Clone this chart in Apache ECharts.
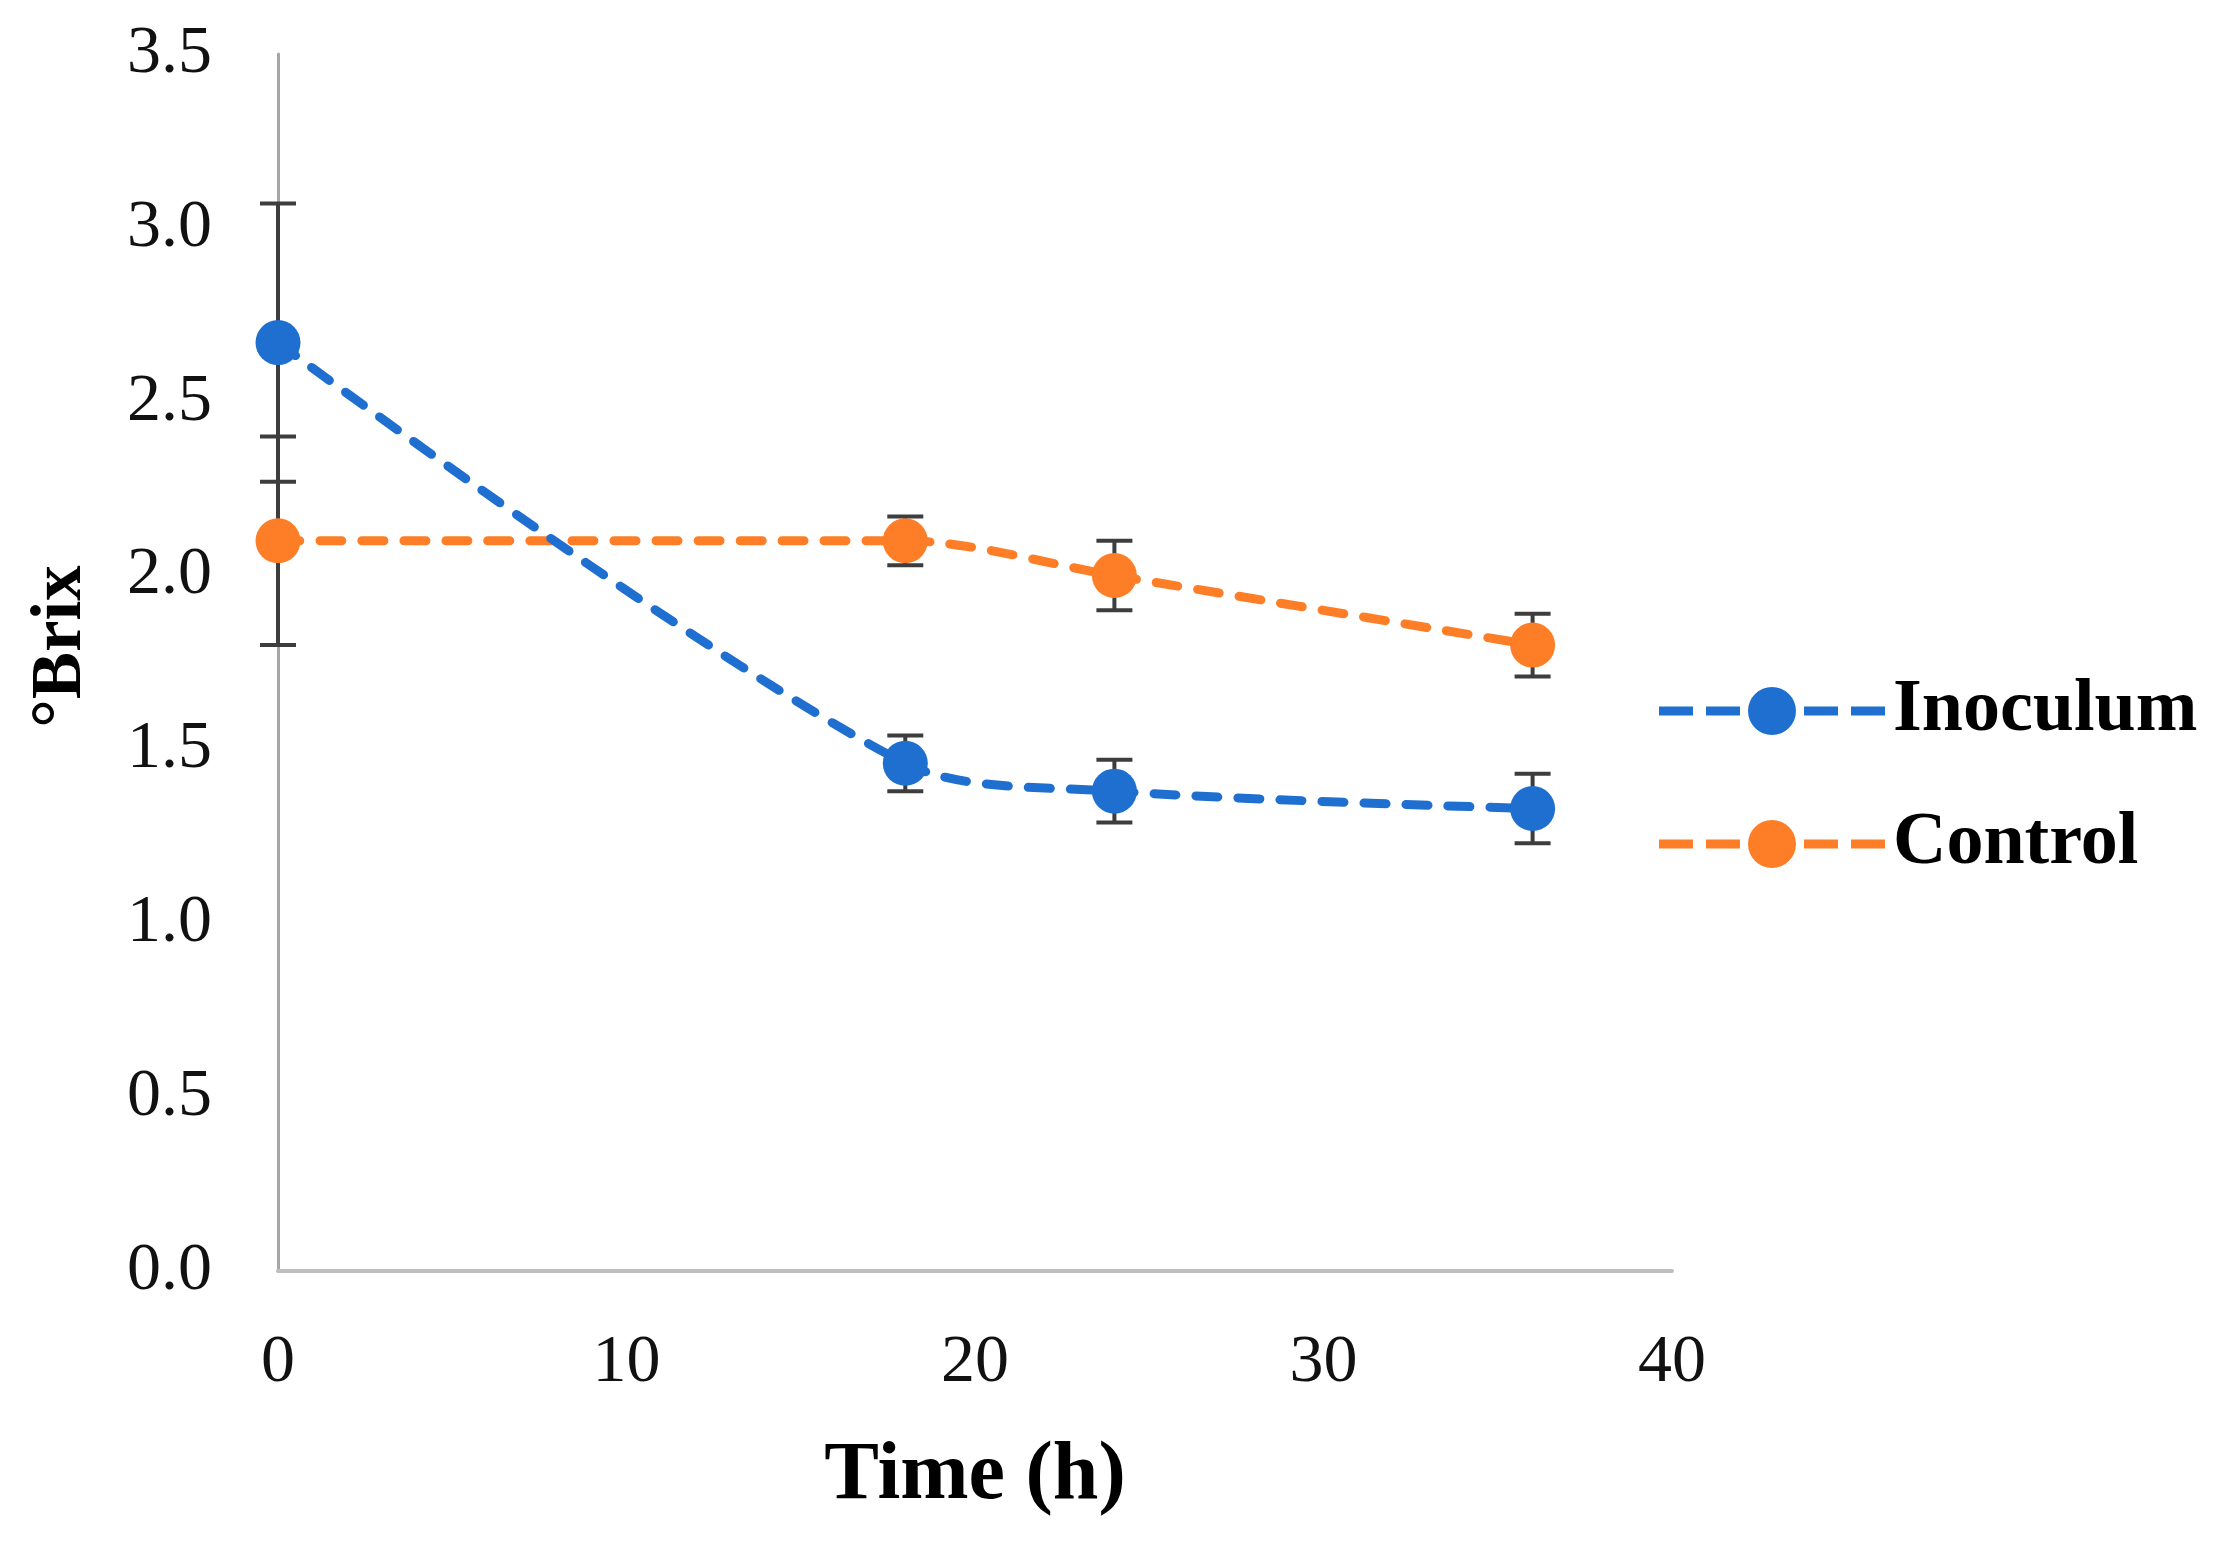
<!DOCTYPE html>
<html><head><meta charset="utf-8">
<script src="https://cdn.jsdelivr.net/npm/echarts@6/dist/echarts.min.js"></script>
<style>html,body{margin:0;padding:0;background:#fff}#c{width:2219px;height:1546px}</style>
</head><body><div id="c"></div>
<script>
// Data
const timeH = [0, 18, 24, 36];
const inoculum = [2.67, 1.46, 1.38, 1.33];
const inoculumErr = [0.40, 0.08, 0.09, 0.10];
const control = [2.10, 2.10, 2.00, 1.80];
const controlErr = [0.30, 0.07, 0.10, 0.09];
const seriesNames = ['Inoculum', 'Control'];
const xTickStep = 10, xMax = 40;
const yTickStep = 0.5, yMax = 3.5;

const BLUE = '#1f6fd0', ORANGE = '#fd7e26', ERR = '#3d3d3d';
const FONT = '"Liberation Serif", "Times New Roman", serif';

function pairs(xs, ys){ return xs.map((x,i)=>[x, ys[i]]); }
function triples(xs, ys, es){ return xs.map((x,i)=>[x, ys[i], es[i]]); }

function errRender(params, api){
  const x = api.value(0), y = api.value(1), e = api.value(2);
  const top = api.coord([x, y + e]), bot = api.coord([x, y - e]);
  const hw = 18;
  const style = {stroke: ERR, lineWidth: 4};
  return {type:'group', children:[
    {type:'line', shape:{x1:top[0], y1:top[1], x2:bot[0], y2:bot[1]}, style},
    {type:'line', shape:{x1:top[0]-hw, y1:top[1], x2:top[0]+hw, y2:top[1]}, style},
    {type:'line', shape:{x1:bot[0]-hw, y1:bot[1], x2:bot[0]+hw, y2:bot[1]}, style}
  ]};
}

// legend icon: dashed line with a circle in the middle (226 x 48 box)
const legendIcon = 'path://M0,19.5 L34,19.5 L34,28.5 L0,28.5 Z M47,19.5 L81,19.5 L81,28.5 L47,28.5 Z ' +
  'M89,24 A24,24 0 1,0 137,24 A24,24 0 1,0 89,24 Z ' +
  'M145,19.5 L179,19.5 L179,28.5 L145,28.5 Z M192,19.5 L226,19.5 L226,28.5 L192,28.5 Z';

const chart = echarts.init(document.getElementById('c'), null, {renderer:'canvas'});
chart.setOption({
  backgroundColor: '#fff',
  animation: false,
  grid: {left: 278, right: 2219 - 1672, top: 54, bottom: 1546 - 1271, containLabel: false},
  legend: {
    orient: 'vertical', left: 1654, top: 669,
    itemWidth: 226, itemHeight: 48, itemGap: 59,
    data: seriesNames.map(n => ({name: n, icon: legendIcon, itemStyle: {borderWidth: 0}})),
    textStyle: {fontFamily: FONT, fontWeight: 'bold', fontSize: 74, color: '#000', padding: [0,0,0,3], lineHeight: 48}
  },
  xAxis: {
    type: 'value', min: 0, max: xMax, interval: xTickStep,
    axisLine: {show: true, lineStyle: {color: '#bfbfbf', width: 4}},
    axisTick: {show: false}, splitLine: {show: false},
    axisLabel: {fontFamily: FONT, fontSize: 68, color: '#111', margin: 58},
    name: 'Time (h)', nameLocation: 'middle', nameGap: 165,
    nameTextStyle: {fontFamily: FONT, fontWeight: 'bold', fontSize: 82, color: '#000'}
  },
  yAxis: {
    type: 'value', min: 0, max: yMax, interval: yTickStep,
    axisLine: {show: true, lineStyle: {color: '#a6a6a6', width: 3}},
    axisTick: {show: false}, splitLine: {show: false},
    axisLabel: {fontFamily: FONT, fontSize: 68, color: '#111', margin: 66, formatter: v => v.toFixed(1)},
    name: '°Brix', nameLocation: 'middle', nameGap: 181, nameRotate: 90,
    nameTextStyle: {fontFamily: FONT, fontWeight: 'bold', fontSize: 71, color: '#000', padding: [0,0,0,32]}
  },
  series: [
    {type:'custom', name:'errC', renderItem: errRender, data: triples(timeH, control, controlErr), z: 1, clip: false, silent: true},
    {type:'custom', name:'errI', renderItem: errRender, data: triples(timeH, inoculum, inoculumErr), z: 1, clip: false, silent: true},
    {type:'line', name:'Control', data: pairs(timeH, control), smooth: 0.3, z: 3,
      symbol:'circle', symbolSize: 45, itemStyle:{color: ORANGE},
      lineStyle:{color: ORANGE, width: 9, type:[22, 20], cap:'round'}},
    {type:'line', name:'Inoculum', data: pairs(timeH, inoculum), smooth: 0.3, z: 4,
      symbol:'circle', symbolSize: 45, itemStyle:{color: BLUE},
      lineStyle:{color: BLUE, width: 9, type:[22, 20], cap:'round'}}
  ]
});
</script></body></html>
